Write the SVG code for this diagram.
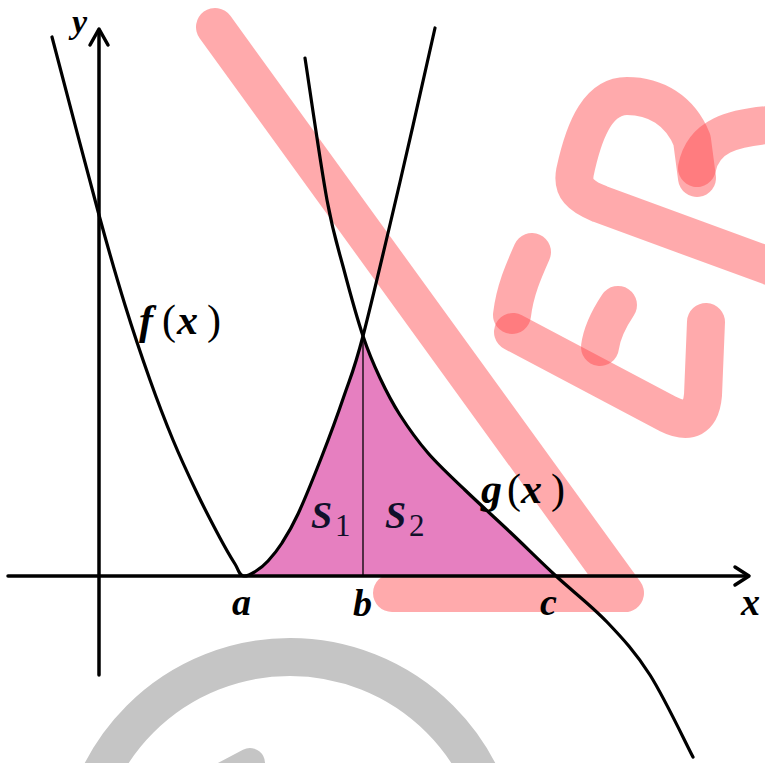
<svg xmlns="http://www.w3.org/2000/svg" width="765" height="763" viewBox="0 0 765 763">
  <defs>
    <style>
      .wm { fill: none; stroke: #ff464b; stroke-opacity: 0.46; stroke-width: 38; stroke-linecap: round; stroke-linejoin: round; }
      .wmg { fill: none; stroke: #c5c5c5; stroke-width: 38; stroke-linecap: round; }
      .axis { fill: none; stroke: #000; stroke-width: 3.5; stroke-linecap: round; stroke-linejoin: round; }
      .curve { fill: none; stroke: #000; stroke-width: 3.2; stroke-linecap: round; }
      .lbl { font-family: "Liberation Serif", "DejaVu Serif", serif; font-style: italic; font-weight: bold; fill: #000; }
      .up { font-style: normal; font-weight: normal; }
      .s { fill: #10102a; }
    </style>
  </defs>
  <rect width="765" height="763" fill="#fff"/>

  <g id="watermark">
    <path class="wm" d="M215,27 L625,593 L392,593"/>
    <path class="wm" d="M513,332 L668,414 Q700,430 703,395 L706,322"/>
    <path class="wm" d="M532,252 C524,270 515,290 512,315"/>
    <path class="wm" d="M618,305 C608,320 602,332 600,347"/>
    <path class="wm" d="M697,178 L692,140 C680,110 655,96 627,96 C600,96 585,125 575,172 C572,188 580,196 600,204 L780,270"/>
    <path class="wm" d="M697,168 C703,138 728,126 785,124"/>
    <circle class="wmg" cx="290" cy="869" r="212"/>
    <path class="wmg" style="stroke-width:30" d="M180,800 L250,763"/>
  </g>

  <g id="region">
    <path fill="#e67fc0" d="M244,576 C249,576 252,573.5 256,571 C260,568.5 263.7,565.7 268,561 C272.3,556.3 277,550.8 282,543 C287,535.2 291.3,528.5 298,514 C304.7,499.5 314.3,475.7 322,456 C329.7,436.3 337.2,416 344,396 C350.8,376 353.7,371.7 363,336 C369,354 373.8,364.8 380,378 C386.2,391.2 392,402.5 400,415 C408,427.5 417.2,440.5 428,453 C438.8,465.5 451.3,476.8 465,490 C478.7,503.2 494.8,517.7 510,532 C525.2,546.3 539.8,561 556,576 Z"/>
    <line x1="363" y1="336" x2="363" y2="576" stroke="#000" stroke-width="1.3"/>
  </g>

  <g id="connectors">
    <line class="axis" x1="99" y1="675" x2="99" y2="30"/>
    <polyline class="axis" points="90,45 99,29 108,45"/>
    <line class="axis" x1="8" y1="576" x2="748" y2="576"/>
    <polyline class="axis" points="735,567 749,576 735,585"/>
  </g>

  <g id="f-curve">
    <path class="curve" d="M52,37 C59.8,66.7 86.8,170.3 99,215 C111.2,259.7 116.5,277.5 125,305 C133.5,332.5 142,357.5 150,380 C158,402.5 165.2,421.2 173,440 C180.8,458.8 189.2,476.7 197,493 C204.8,509.3 213.7,526.2 220,538 C226.3,549.8 231,557.7 235,564 C239,570.3 239,576 244,576 C249,576 252,573.5 256,571 C260,568.5 263.7,565.7 268,561 C272.3,556.3 277,550.8 282,543 C287,535.2 291.3,528.5 298,514 C304.7,499.5 314.3,475.7 322,456 C329.7,436.3 337.2,416 344,396 C350.8,376 353.7,371.7 363,336 C372.3,300.3 388,233.3 400,182 C412,130.7 429.2,53.7 435,28"/>
  </g>

  <g id="g-curve">
    <path class="curve" d="M305,58 C308.7,81.7 320.5,164.7 327,200 C333.5,235.3 338,247.3 344,270 C350,292.7 357,318 363,336 C369,354 373.8,364.8 380,378 C386.2,391.2 392,402.5 400,415 C408,427.5 417.2,440.5 428,453 C438.8,465.5 451.3,476.8 465,490 C478.7,503.2 494.8,517.7 510,532 C525.2,546.3 539.8,561 556,576 C572.2,591 591.3,605.5 607,622 C622.7,638.5 635.7,652.5 650,675 C664.3,697.5 685.8,743.3 693,757"/>
  </g>

  <g id="labels">
    <text class="lbl" x="72" y="33" font-size="34">y</text>
    <text class="lbl" x="741" y="615" font-size="38">x</text>
    <text class="lbl" x="232" y="615" font-size="38">a</text>
    <text class="lbl" x="353" y="616" font-size="38">b</text>
    <text class="lbl" x="540" y="615" font-size="38">c</text>
    <text class="lbl" font-size="42" y="334"><tspan x="139">f</tspan><tspan class="up" x="162">(</tspan><tspan x="177">x</tspan><tspan class="up" x="207">)</tspan></text>
    <text class="lbl" font-size="42" y="503"><tspan x="481">g</tspan><tspan class="up" x="507">(</tspan><tspan x="521">x</tspan><tspan class="up" x="551">)</tspan></text>
    <text class="lbl s" x="311" y="528" font-size="38">S<tspan class="up" x="335" y="536" font-size="31">1</tspan></text>
    <text class="lbl s" x="385" y="528" font-size="38">S<tspan class="up" x="409" y="536" font-size="31">2</tspan></text>
  </g>
</svg>
